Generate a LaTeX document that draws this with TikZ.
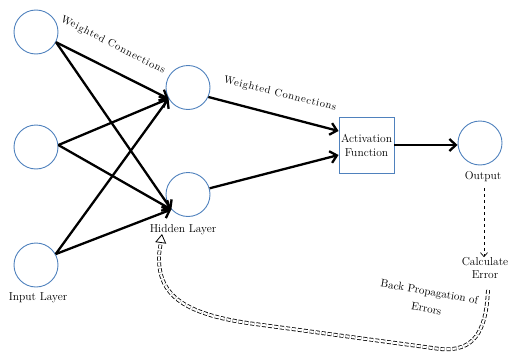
\documentclass[tikz,border=0pt]{standalone}
\usepackage{fontspec}
\setmainfont{Latin Modern Roman}
\usetikzlibrary{arrows.meta,calc}
\definecolor{obl}{RGB}{79,129,189}
\begin{document}
\begin{tikzpicture}[x=1pt,y=-1pt,
  neuron/.style={circle,draw=obl,line width=0.9pt,minimum size=44pt,inner sep=0pt},
  actbox/.style={draw=obl,line width=0.9pt,minimum width=55pt,minimum height=56pt,inner sep=0pt,align=center},
  lbl/.style={font=\fontsize{11.5}{13}\selectfont,inner sep=0pt,align=center},
  spaced/.style={font=\fontsize{10.5}{13}\selectfont\addfontfeature{LetterSpace=7}},
  wire/.style={line width=2.3pt,-{Straight Barb[length=6.5pt,width=12pt,line width=2.3pt]}},
  errline/.style={dashed,line width=0.7pt,-{Straight Barb[length=4pt,width=7pt]}},
  bpline/.style={double,double distance=2.2pt,dash pattern=on 4pt off 2pt,line width=0.8pt,-{Triangle[open,length=9pt,width=11pt]}}]
\useasboundingbox (0,0) rectangle (509,356);
% neurons
\node[neuron] (i1) at (36,32) {};
\node[neuron] (i2) at (36,147) {};
\node[neuron] (i3) at (36,265) {};
\node[neuron] (h1) at (188,87.5) {};
\node[neuron] (h2) at (188,194.5) {};
\node[actbox,font=\fontsize{11.5}{14}\selectfont] (act) at (366.5,145) {Activation\\Function};
\node[neuron] (out) at (480,143) {};
% labels
\node[lbl] (inl) at (38,298) {Input Layer};
\node[lbl] (hl) at (183,230) {Hidden Layer};
\node[lbl] (outl) at (483,177) {Output};
\node[lbl] (err) at (485,268) {Calculate\\Error};
\node[lbl,spaced,rotate=-27] (wc1) at (113,45) {Weighted\ Connections};
\node[lbl,spaced,rotate=-14] (wc2) at (280,94) {Weighted\ Connections};
\node[lbl,rotate=-10,font=\fontsize{11}{17}\selectfont] (bpl) at (428,300) {Back Propagation\ of\\Errors};
% input -> hidden
\draw[wire] (i1.-27) -- (h1.210);
\draw[wire] (i1.-27) -- (h2.222);
\draw[wire] (i2.5) -- (h1.210);
\draw[wire] (i2.5) -- (h2.222);
\draw[wire] (i3.29) -- (h1.210);
\draw[wire] (i3.29) -- (h2.222);
% hidden -> activation
\draw[wire] (h1.-25) -- ($(act.west)+(0,-14)$);
\draw[wire] (h2.16) -- ($(act.west)+(0,10)$);
% activation -> output
\draw[wire] (act.east) -- (act.east -| out.west);
% output -> error
\draw[errline] ($(outl.south)+(1,6)$) -- (err.north -| 484,0);
% back propagation
\coordinate (bpS) at (488,290);
\coordinate (bpE) at (162,234);
\draw[bpline] (bpS) .. controls (486,332) and (474,352) .. (440,349)
  -- (255,324) .. controls (178,314) and (158,292) .. (159,255) -- (bpE);
\end{tikzpicture}
\end{document}
